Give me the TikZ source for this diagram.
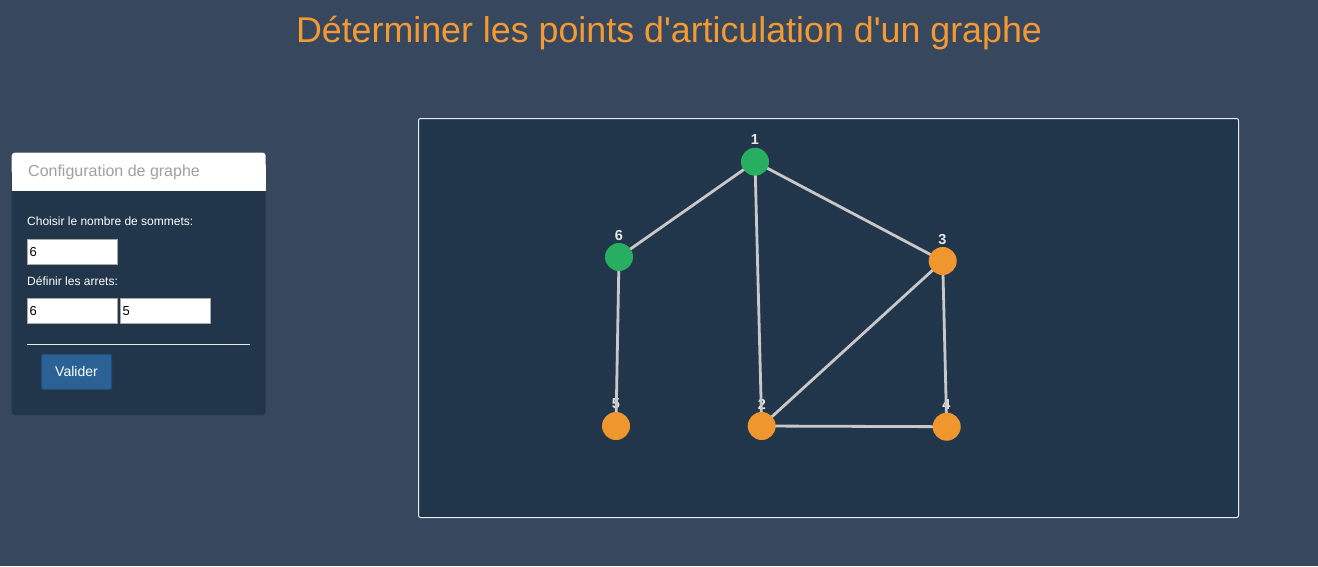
\documentclass[tikz,border=0pt]{standalone}
\usepackage{fontspec}
\setmainfont{Liberation Sans}[Ligatures=TeXOff]
\begin{document}
\begin{tikzpicture}[x=1pt,y=-1pt,
  vert/.style={circle,minimum size=28pt,inner sep=0pt,draw=none},
  green/.style={vert,fill=vgreen},
  orange/.style={vert,fill=vorange},
  vlabel/.style={text=labelc,font=\fontsize{14.5}{14.5}\selectfont\bfseries,inner sep=0pt},
  edge/.style={draw=edgec,line width=2.8pt},
  inbox/.style={draw=inborder,fill=white,line width=0.8pt,minimum width=90pt,minimum height=25pt,inner sep=0pt,anchor=north west},
  intext/.style={font=\fontsize{13}{13}\selectfont,text=black,anchor=west,inner sep=0pt},
  lbl/.style={font=\fontsize{12}{12}\selectfont,text=white,anchor=west,inner sep=0pt}
]
\definecolor{bg}{HTML}{37475E}
\definecolor{panel}{HTML}{22364B}
\definecolor{vgreen}{HTML}{27AE60}
\definecolor{vorange}{HTML}{F0962E}
\definecolor{edgec}{HTML}{C8C8C8}
\definecolor{labelc}{HTML}{E8E8E8}
\definecolor{titlec}{HTML}{F39A33}
\definecolor{inborder}{HTML}{A9A9A9}
\definecolor{btn}{HTML}{2B6195}
\definecolor{btnborder}{HTML}{1F4E7D}
\definecolor{headtext}{HTML}{A0A0A0}
\useasboundingbox (0,0) rectangle (1318,566);
\fill[bg] (0,0) rectangle (1318,566);
% title
\node[text=titlec,font=\fontsize{35.8}{35.8}\selectfont,inner sep=0pt,anchor=base] (title) at (669,42.5) {Déterminer les points d'articulation d'un graphe};
% left panel
\fill[panel,rounded corners=3pt] (11.7,152.7) rectangle (265.7,415);
\fill[white,rounded corners=3pt] (11.7,152.7) rectangle (265.7,175);
\fill[white] (11.7,165) rectangle (265.7,190.7);
\node[text=headtext,font=\fontsize{16}{16}\selectfont,anchor=west,inner sep=0pt] (head) at (28,172) {Configuration de graphe};
\node[lbl] (l1) at (27,221) {Choisir le nombre de sommets:};
\node[inbox] (in1) at (27,239.3) {};
\node[intext] (t1) at (29.5,252) {6};
\node[lbl] (l2) at (27,281.5) {Définir les arrets:};
\node[inbox] (in2) at (27,298.3) {};
\node[inbox] (in3) at (120,298.3) {};
\node[intext] (t2) at (29.5,311) {6};
\node[intext] (t3) at (122.5,311) {5};
\draw[white!90!panel,line width=1pt] (27,344) -- (250,344);
\node[draw=btnborder,fill=btn,line width=1pt,rounded corners=1.5pt,minimum width=70pt,minimum height=35pt,inner sep=0pt,text=white,font=\fontsize{14}{14}\selectfont] (btn) at (76.5,371.8) {Valider};
% graph panel
\draw[panel!10!white,fill=panel,line width=1pt,rounded corners=2pt] (418.5,118.5) rectangle (1238.5,517.5);
% labels
\node[vlabel] (L1) at (755,139.5) {1};
\node[vlabel] (L6) at (619,235.5) {6};
\node[vlabel] (L3) at (942.5,239.5) {3};
\node[vlabel] (L5) at (616,404) {5};
\node[vlabel] (L2) at (762,404) {2};
\node[vlabel] (L4) at (946.5,404.5) {4};
% vertices positions
\coordinate (c1) at (755,161.7);
\coordinate (c6) at (619,257);
\coordinate (c3) at (942.7,261);
\coordinate (c5) at (616,426);
\coordinate (c2) at (761.7,426);
\coordinate (c4) at (946.7,426.7);
\draw[edge] (c1) -- (c6);
\draw[edge] (c1) -- (c2);
\draw[edge] (c1) -- (c3);
\draw[edge] (c6) -- (c5);
\draw[edge] (c3) -- (c2);
\draw[edge] (c3) -- (c4);
\draw[edge] (c2) -- (c4);
\node[green] (v1) at (c1) {};
\node[green] (v6) at (c6) {};
\node[orange] (v3) at (c3) {};
\node[orange] (v5) at (c5) {};
\node[orange] (v2) at (c2) {};
\node[orange] (v4) at (c4) {};
\end{tikzpicture}
\end{document}
